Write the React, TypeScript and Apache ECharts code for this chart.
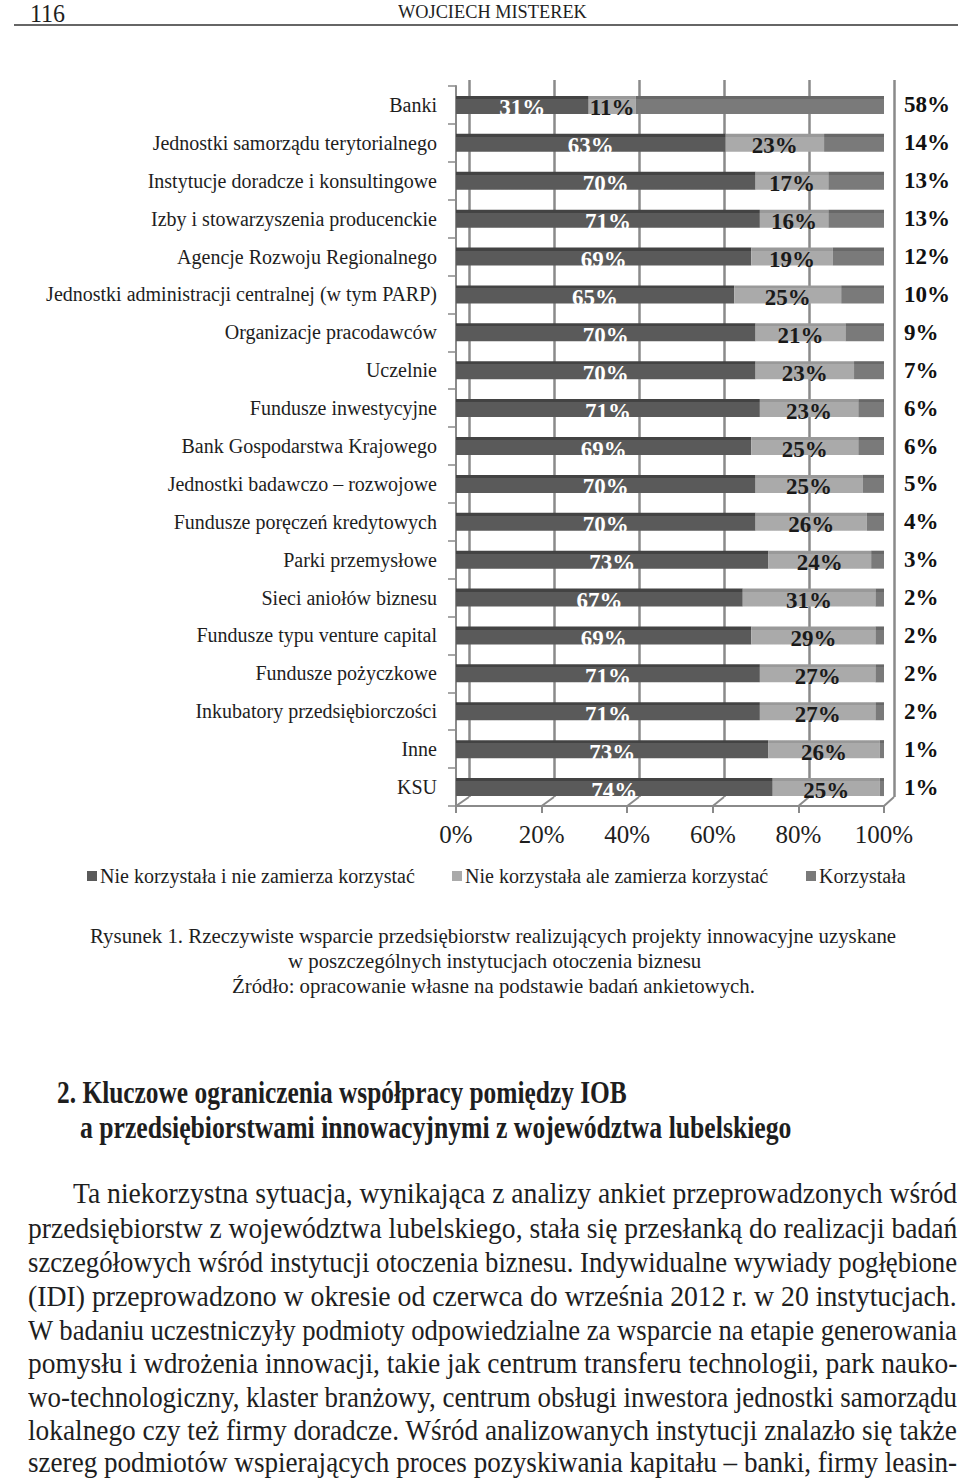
import React, { useEffect, useLayoutEffect, useRef, useState } from "react";
import * as echarts from "echarts";

const SERIF = "'Liberation Serif', 'Times New Roman', serif";

const categories = [
  "Banki",
  "Jednostki samorządu terytorialnego",
  "Instytucje doradcze i konsultingowe",
  "Izby i stowarzyszenia producenckie",
  "Agencje Rozwoju Regionalnego",
  "Jednostki administracji centralnej (w tym PARP)",
  "Organizacje pracodawców",
  "Uczelnie",
  "Fundusze inwestycyjne",
  "Bank Gospodarstwa Krajowego",
  "Jednostki badawczo – rozwojowe",
  "Fundusze poręczeń kredytowych",
  "Parki przemysłowe",
  "Sieci aniołów biznesu",
  "Fundusze typu venture capital",
  "Fundusze pożyczkowe",
  "Inkubatory przedsiębiorczości",
  "Inne",
  "KSU",
];
const nieZamierza = [31, 63, 70, 71, 69, 65, 70, 70, 71, 69, 70, 70, 73, 67, 69, 71, 71, 73, 74];
const zamierza = [11, 23, 17, 16, 19, 25, 21, 23, 23, 25, 25, 26, 24, 31, 29, 27, 27, 26, 25];
const korzystala = [58, 14, 13, 13, 12, 10, 9, 7, 6, 6, 5, 4, 3, 2, 2, 2, 2, 1, 1];
const seriesNames = [
  "Nie korzystała i nie zamierza korzystać",
  "Nie korzystała ale zamierza korzystać",
  "Korzystała",
];
const xTicks = [0, 20, 40, 60, 80, 100];

const headerPage = "116";
const headerAuthor = "WOJCIECH MISTEREK";
const captionLines = [
  "Rysunek 1. Rzeczywiste wsparcie przedsiębiorstw realizujących projekty innowacyjne uzyskane",
  "w poszczególnych instytucjach otoczenia biznesu",
  "Źródło: opracowanie własne na podstawie badań ankietowych.",
];
const headingLines = [
  "2. Kluczowe ograniczenia współpracy pomiędzy IOB",
  "a przedsiębiorstwami innowacyjnymi z województwa lubelskiego",
];
const bodyLines = [
  "Ta niekorzystna sytuacja, wynikająca z analizy ankiet przeprowadzonych wśród",
  "przedsiębiorstw z województwa lubelskiego, stała się przesłanką do realizacji badań",
  "szczegółowych wśród instytucji otoczenia biznesu. Indywidualne wywiady pogłębione",
  "(IDI) przeprowadzono w okresie od czerwca do września 2012 r. w 20 instytucjach.",
  "W badaniu uczestniczyły podmioty odpowiedzialne za wsparcie na etapie generowania",
  "pomysłu i wdrożenia innowacji, takie jak centrum transferu technologii, park nauko-",
  "wo-technologiczny, klaster branżowy, centrum obsługi inwestora jednostki samorządu",
  "lokalnego czy też firmy doradcze. Wśród analizowanych instytucji znalazło się także",
  "szereg podmiotów wspierających proces pozyskiwania kapitału – banki, firmy leasin-",
];

const FRONT = { left: 456, top: 86, width: 428, height: 720 };
const BACK = { left: 469, top: 80, width: 425, height: 717 };
const GRID_COLOR = "#8a8a8a";
const TEXT = "#1e1e1e";

function grad(top: string, main: string) {
  return new echarts.graphic.LinearGradient(0, 0, 0, 1, [
    { offset: 0, color: top },
    { offset: 0.17, color: top },
    { offset: 0.17, color: main },
    { offset: 1, color: main },
  ]);
}

type FitProps = { text: string; x: number; cy: number; w: number; size: number; bold?: boolean; center?: boolean };
function FitLine({ text, x, cy, w, size, bold, center }: FitProps) {
  const ref = useRef<HTMLSpanElement>(null);
  const [s, setS] = useState(1);
  useLayoutEffect(() => {
    const measure = () => {
      const el = ref.current;
      if (!el) return;
      const nat = el.offsetWidth;
      if (nat > 0) setS(w / nat);
    };
    measure();
    if ((document as any).fonts && (document as any).fonts.ready) {
      (document as any).fonts.ready.then(measure);
    }
  }, [text, w, size]);
  const left = center ? x - w / 2 : x;
  return (
    <span
      ref={ref}
      style={{
        position: "absolute",
        left,
        top: cy - size * 0.5,
        fontSize: size,
        lineHeight: 1,
        fontFamily: SERIF,
        fontWeight: bold ? "bold" : "normal",
        whiteSpace: "pre",
        transform: `scaleX(${s})`,
        transformOrigin: "0 0",
        color: TEXT,
      }}
    >
      {text}
    </span>
  );
}

function Chart() {
  const ref = useRef<HTMLDivElement>(null);
  useEffect(() => {
    if (!ref.current) return;
    const chart = echarts.init(ref.current, null, { renderer: "svg" });
    const labelBase = {
      show: true,
      formatter: "{c}%",
      fontSize: 23,
      fontWeight: "bold" as const,
      fontFamily: SERIF,
    };
    const colors = [
      { top: "#434343", main: "#5a5a5a" },
      { top: "#999999", main: "#aaaaaa" },
      { top: "#686868", main: "#7a7a7a" },
    ];
    const data = [nieZamierza, zamierza, korzystala];
    chart.setOption({
      animation: false,
      grid: [
        { ...FRONT, outerBoundsMode: "none" },
        { ...BACK, outerBoundsMode: "none" },
      ],
      xAxis: [
        {
          type: "value",
          gridIndex: 0,
          min: 0,
          max: 100,
          interval: 20,
          axisLabel: { formatter: "{value}%", fontSize: 25, color: TEXT, fontFamily: SERIF, margin: 16 },
          axisLine: { show: true, lineStyle: { color: GRID_COLOR, width: 2 } },
          axisTick: { show: true, length: 7, lineStyle: { color: GRID_COLOR, width: 2 } },
          splitLine: { show: false },
        },
        {
          type: "value",
          gridIndex: 1,
          min: 0,
          max: 100,
          interval: 20,
          axisLabel: { show: false },
          axisLine: { show: false },
          axisTick: { show: false },
          splitLine: { show: true, lineStyle: { color: GRID_COLOR, width: 2.5 } },
        },
      ],
      yAxis: [
        {
          type: "category",
          gridIndex: 0,
          data: categories,
          inverse: true,
          axisLine: { show: true, lineStyle: { color: GRID_COLOR, width: 2 } },
          axisTick: { show: true, length: 8, lineStyle: { color: GRID_COLOR, width: 1.5 } },
          axisLabel: { fontSize: 20, color: TEXT, fontFamily: SERIF, margin: 19, padding: [8, 0, 0, 0] },
        },
        { type: "value", gridIndex: 1, min: 0, max: 1, show: false },
      ],
      legend: seriesNames.map((n, i) => ({
        data: [{ name: n, itemStyle: { color: colors[i].main } }],
        left: [87, 452, 806][i],
        top: 866,
        icon: "rect",
        itemWidth: 10,
        itemHeight: 10,
        padding: 0,
        selectedMode: false,
        textStyle: { fontSize: 20, color: TEXT, fontFamily: SERIF, padding: [0, 0, 0, -2] },
      })),
      series: [
        ...seriesNames.map((n, i) => ({
          name: n,
          type: "bar",
          stack: "total",
          xAxisIndex: 0,
          yAxisIndex: 0,
          barWidth: 18,
          data: data[i],
          itemStyle: { color: grad(colors[i].top, colors[i].main) },
          label:
            i === 2
              ? { ...labelBase, position: "right", distance: 20, color: "#111" }
              : { ...labelBase, position: "inside", color: i === 0 ? "#ffffff" : "#1a1a1a", offset: [0, 3] },
        })),
        { type: "line", xAxisIndex: 1, yAxisIndex: 1, data: [], silent: true },
      ],
    });
    const fy = FRONT.top + FRONT.height;
    const by = BACK.top + BACK.height;
    const floor = xTicks.map((v) => {
      const fx = chart.convertToPixel({ xAxisIndex: 0 }, v) as number;
      const bx = chart.convertToPixel({ xAxisIndex: 1 }, v) as number;
      return {
        type: "line",
        shape: { x1: fx, y1: fy, x2: bx, y2: by },
        style: { stroke: GRID_COLOR, lineWidth: 2 },
        silent: true,
      };
    });
    chart.setOption({ graphic: floor });
    return () => chart.dispose();
  }, []);
  return <div ref={ref} style={{ position: "absolute", left: 0, top: 0, width: 960, height: 900 }} />;
}

export default function App() {
  return (
    <div style={{ position: "absolute", left: 0, top: 0, width: 960, height: 1480, background: "#fff", overflow: "hidden" }}>
      <Chart />
      <FitLine text={headerPage} x={30} cy={14} w={35} size={26} />
      <FitLine text={headerAuthor} x={398} cy={11} w={189} size={19} />
      <div style={{ position: "absolute", left: 14, top: 24, width: 944, height: 2, background: "#666" }} />
      <FitLine text={captionLines[0]} x={493} cy={936} w={806} size={22} center />
      <FitLine text={captionLines[1]} x={494} cy={961} w={413} size={22} center />
      <FitLine text={captionLines[2]} x={493} cy={986} w={523} size={22} center />
      <FitLine text={headingLines[0]} x={57} cy={1092} w={570} size={31} bold />
      <FitLine text={headingLines[1]} x={80} cy={1127} w={711} size={31} bold />
      {bodyLines.map((t, i) => (
        <FitLine
          key={i}
          text={t}
          x={i === 0 ? 73 : 28}
          cy={[1193, 1228, 1262, 1296, 1330, 1363, 1397, 1430, 1462][i]}
          w={i === 0 ? 884 : 929}
          size={30}
        />
      ))}
    </div>
  );
}
